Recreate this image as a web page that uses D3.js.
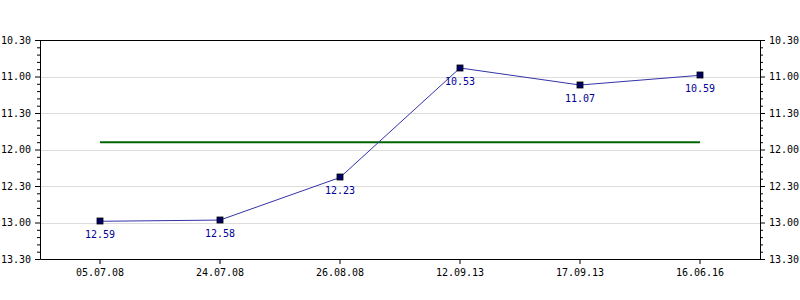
<!DOCTYPE html>
<html>
<head>
<meta charset="utf-8">
<script src="https://cdn.jsdelivr.net/npm/d3@7"></script>
<style>
  body { margin: 0; background: #fff; }
  svg { display: block; }
  text { font-family: "DejaVu Sans Mono", monospace; font-size: 10px; }
</style>
</head>
<body>
<svg id="chart"></svg>
<script>
// dates of each race and the times (min.sec)
const dates = ["05.07.08", "24.07.08", "26.08.08", "12.09.13", "17.09.13", "16.06.16"];
const times = ["12.59", "12.58", "12.23", "10.53", "11.07", "10.59"];
const averageTime = ["11.54"];
const yTicks = ["10.30", "11.00", "11.30", "12.00", "12.30", "13.00", "13.30"];

// "12.59" -> seconds
const toSec = s => { const p = s.split("."); return +p[0] * 60 + +p[1]; };

const w = 800, h = 300;
const m = {top: 40, right: 40, bottom: 41, left: 40};

const svg = d3.select("#chart").attr("width", w).attr("height", h);

const x = d3.scaleBand()
  .domain(dates)
  .range([m.left, w - m.right]);

const y = d3.scaleLinear()
  .domain([toSec(yTicks[0]), toSec(yTicks[yTicks.length - 1])])
  .range([m.top, h - m.bottom]);

const major = yTicks.map(toSec);
const minor = d3.range(y.domain()[0], y.domain()[1] + 1, 6).filter(v => !major.includes(v));

// grid
svg.append("g")
  .selectAll("line")
  .data(major.slice(1, -1))
  .join("line")
  .attr("x1", m.left).attr("x2", w - m.right)
  .attr("y1", d => Math.round(y(d)) + 0.5).attr("y2", d => Math.round(y(d)) + 0.5)
  .attr("stroke", "#dddddd");

// frame top
svg.append("line")
  .attr("x1", m.left).attr("x2", w - m.right)
  .attr("y1", m.top + 0.5).attr("y2", m.top + 0.5)
  .attr("stroke", "#000");

// y axes left/right
const fmt = v => yTicks[major.indexOf(v)];
[[d3.axisLeft, m.left], [d3.axisRight, w - m.right]].forEach(([ax, px]) => {
  const g = svg.append("g").attr("transform", `translate(${px},0)`);
  g.call(ax(y).tickValues(major).tickFormat(fmt).tickSize(5).tickPadding(4));
  g.append("g").call(ax(y).tickValues(minor).tickFormat("").tickSize(3))
    .select(".domain").remove();
  g.selectAll("text").attr("fill", "#000").style("font-size", "10px")
    .style("font-family", '"DejaVu Sans Mono", monospace');
});

// x axis
const xa = svg.append("g").attr("transform", `translate(0,${h - m.bottom})`)
  .call(d3.axisBottom(x).tickSize(5).tickPadding(5).tickSizeOuter(0));
xa.selectAll("text").attr("fill", "#000").style("font-size", "10px")
  .style("font-family", '"DejaVu Sans Mono", monospace');

const cx = d => x(d) + x.bandwidth() / 2;

// average line
svg.append("line")
  .attr("x1", cx(dates[0])).attr("x2", cx(dates[dates.length - 1]))
  .attr("y1", y(toSec(averageTime[0]))).attr("y2", y(toSec(averageTime[0])))
  .attr("stroke", "#006600").attr("stroke-width", 2);

const pts = dates.map((d, i) => ({d, t: times[i], v: toSec(times[i])}));

// line
svg.append("path")
  .datum(pts)
  .attr("fill", "none")
  .attr("stroke", "#3333aa")
  .attr("stroke-width", 1)
  .attr("d", d3.line().x(p => cx(p.d)).y(p => y(p.v)));

// markers
svg.append("g").selectAll("rect")
  .data(pts)
  .join("rect")
  .attr("x", p => Math.round(cx(p.d)) - 3)
  .attr("y", p => Math.round(y(p.v)) - 3)
  .attr("width", 6).attr("height", 6)
  .attr("fill", "#000066")
  .attr("stroke", "#000").attr("stroke-width", 0.8);

// value labels
svg.append("g").selectAll("text")
  .data(pts)
  .join("text")
  .attr("x", p => cx(p.d))
  .attr("y", p => y(p.v) + 17)
  .attr("text-anchor", "middle")
  .attr("fill", "#000099")
  .text(p => p.t);
</script>
</body>
</html>
